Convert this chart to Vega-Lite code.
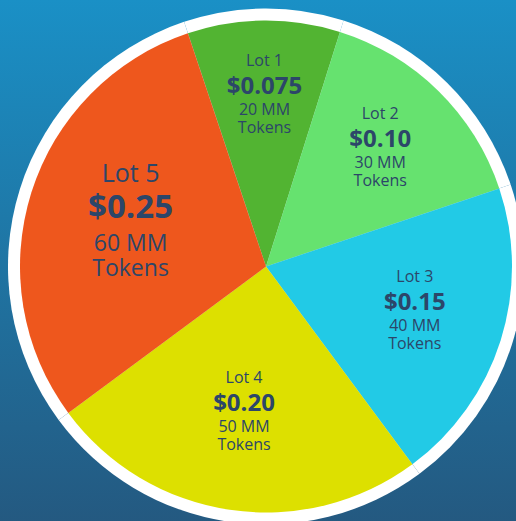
{
  "$schema": "https://vega.github.io/schema/vega-lite/v6.json",
  "width": 532,
  "height": 533,
  "autosize": {"type": "none"},
  "padding": 0,
  "config": {"view": {"stroke": null}, "text": {"font": "Open Sans", "color": "#2c4669", "baseline": "alphabetic", "align": "center"}},
  "data": {"values": [
    {"lot": "Lot 1", "price": "$0.075", "amount": "20 MM", "unit": "Tokens", "tokens": 20},
    {"lot": "Lot 2", "price": "$0.10", "amount": "30 MM", "unit": "Tokens", "tokens": 30},
    {"lot": "Lot 3", "price": "$0.15", "amount": "40 MM", "unit": "Tokens", "tokens": 40},
    {"lot": "Lot 4", "price": "$0.20", "amount": "50 MM", "unit": "Tokens", "tokens": 50},
    {"lot": "Lot 5", "price": "$0.25", "amount": "60 MM", "unit": "Tokens", "tokens": 60}
  ]},
  "layer": [
    {
      "data": {"values": [{}]},
      "mark": {"type": "rect", "fill": {"gradient": "linear", "x1": 0, "y1": 0, "x2": 0, "y2": 1, "stops": [{"offset": 0, "color": "#1a90c6"}, {"offset": 1, "color": "#24587f"}]}},
      "encoding": {}
    },
    {
      "mark": {"type": "arc", "outerRadius": 258, "fill": "#ffffff"},
      "encoding": {
        "theta": {"field": "tokens", "type": "quantitative", "stack": true, "scale": {"range": [-0.323, 5.960]}},
        "order": {"field": "tokens", "type": "quantitative", "sort": "ascending"}
      }
    },
    {
      "mark": {"type": "arc", "outerRadius": 246},
      "encoding": {
        "theta": {"field": "tokens", "type": "quantitative", "stack": true},
        "order": {"field": "tokens", "type": "quantitative", "sort": "ascending"},
        "color": {"field": "lot", "type": "nominal", "scale": {"domain": ["Lot 1", "Lot 2", "Lot 3", "Lot 4", "Lot 5"], "range": ["#52b432", "#66e26f", "#22cae6", "#dde000", "#ee571d"]}, "legend": null}
      }
    },
    {
      "mark": {"type": "text", "fontSize": 16, "dy": -31},
      "encoding": {
        "theta": {"field": "tokens", "type": "quantitative", "stack": true},
        "radius": {"field": "tokens", "type": "quantitative", "scale": {"type": "linear", "domain": [20, 60], "range": [170, 142]}},
        "order": {"field": "tokens", "type": "quantitative", "sort": "ascending"},
        "text": {"field": "lot", "type": "nominal", "condition": {"test": "datum.lot === 'Lot 5'", "value": ""}}
      }
    },
    {
      "mark": {"type": "text", "fontSize": 24, "fontWeight": "bold", "dy": -3},
      "encoding": {
        "theta": {"field": "tokens", "type": "quantitative", "stack": true},
        "radius": {"field": "tokens", "type": "quantitative", "scale": {"type": "linear", "domain": [20, 60], "range": [170, 142]}},
        "order": {"field": "tokens", "type": "quantitative", "sort": "ascending"},
        "text": {"field": "price", "type": "nominal", "condition": {"test": "datum.lot === 'Lot 5'", "value": ""}}
      }
    },
    {
      "mark": {"type": "text", "fontSize": 16, "dy": 18},
      "encoding": {
        "theta": {"field": "tokens", "type": "quantitative", "stack": true},
        "radius": {"field": "tokens", "type": "quantitative", "scale": {"type": "linear", "domain": [20, 60], "range": [170, 142]}},
        "order": {"field": "tokens", "type": "quantitative", "sort": "ascending"},
        "text": {"field": "amount", "type": "nominal", "condition": {"test": "datum.lot === 'Lot 5'", "value": ""}}
      }
    },
    {
      "mark": {"type": "text", "fontSize": 16, "dy": 36},
      "encoding": {
        "theta": {"field": "tokens", "type": "quantitative", "stack": true},
        "radius": {"field": "tokens", "type": "quantitative", "scale": {"type": "linear", "domain": [20, 60], "range": [170, 142]}},
        "order": {"field": "tokens", "type": "quantitative", "sort": "ascending"},
        "text": {"field": "unit", "type": "nominal", "condition": {"test": "datum.lot === 'Lot 5'", "value": ""}}
      }
    },
    {
      "mark": {"type": "text", "fontSize": 25, "dy": -42},
      "encoding": {
        "theta": {"field": "tokens", "type": "quantitative", "stack": true},
        "radius": {"field": "tokens", "type": "quantitative", "scale": {"type": "linear", "domain": [20, 60], "range": [170, 142]}},
        "order": {"field": "tokens", "type": "quantitative", "sort": "ascending"},
        "text": {"field": "lot", "type": "nominal", "condition": {"test": "datum.lot !== 'Lot 5'", "value": ""}}
      }
    },
    {
      "mark": {"type": "text", "fontSize": 33, "fontWeight": "bold", "dy": -6},
      "encoding": {
        "theta": {"field": "tokens", "type": "quantitative", "stack": true},
        "radius": {"field": "tokens", "type": "quantitative", "scale": {"type": "linear", "domain": [20, 60], "range": [170, 142]}},
        "order": {"field": "tokens", "type": "quantitative", "sort": "ascending"},
        "text": {"field": "price", "type": "nominal", "condition": {"test": "datum.lot !== 'Lot 5'", "value": ""}}
      }
    },
    {
      "mark": {"type": "text", "fontSize": 23, "dy": 27},
      "encoding": {
        "theta": {"field": "tokens", "type": "quantitative", "stack": true},
        "radius": {"field": "tokens", "type": "quantitative", "scale": {"type": "linear", "domain": [20, 60], "range": [170, 142]}},
        "order": {"field": "tokens", "type": "quantitative", "sort": "ascending"},
        "text": {"field": "amount", "type": "nominal", "condition": {"test": "datum.lot !== 'Lot 5'", "value": ""}}
      }
    },
    {
      "mark": {"type": "text", "fontSize": 23, "dy": 52},
      "encoding": {
        "theta": {"field": "tokens", "type": "quantitative", "stack": true},
        "radius": {"field": "tokens", "type": "quantitative", "scale": {"type": "linear", "domain": [20, 60], "range": [170, 142]}},
        "order": {"field": "tokens", "type": "quantitative", "sort": "ascending"},
        "text": {"field": "unit", "type": "nominal", "condition": {"test": "datum.lot !== 'Lot 5'", "value": ""}}
      }
    }
  ]
}
